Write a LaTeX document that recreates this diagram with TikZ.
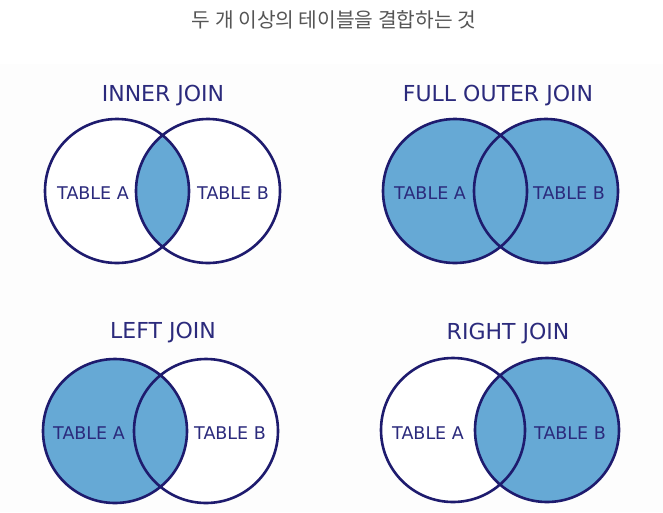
\documentclass[tikz,border=0pt]{standalone}
\usepackage{fontspec}
\setmainfont{DejaVu Sans}
\newfontfamily\krfont{Noto Sans CJK KR}
\usetikzlibrary{positioning}
\definecolor{joinline}{HTML}{1E1B6E}
\definecolor{joinfill}{HTML}{66A9D5}
\definecolor{joinlabel}{HTML}{2B2A7C}
\definecolor{headgray}{HTML}{555555}

\begin{document}
\begin{tikzpicture}[
    x=1pt, y=-1pt,
    ring/.style={
        draw=joinline,
        line width=2.6pt
    },
    shade/.style={
        fill=joinfill
    },
    heading/.style={
        text=joinlabel,
        anchor=base,
        font=\fontsize{22}{26}\selectfont
    },
    tablbl/.style={
        text=joinlabel,
        anchor=base,
        font=\fontsize{17.5}{20}\selectfont
    },
    caption/.style={
        text=headgray,
        anchor=base,
        font=\krfont\fontsize{20.3}{24}\selectfont
    }
]
\useasboundingbox (0,0) rectangle (663,512);
\fill[black!0.8] (0,64) rectangle (663,512);

\node[caption] (caption) at (334,27) {두 개 이상의 테이블을 결합하는 것};

% inner join
\coordinate (innerA) at (117,191);
\coordinate (innerB) at (208,191);
\fill[white] (innerA) circle [radius=72pt] (innerB) circle [radius=72pt];
\begin{scope}
    \clip (innerA) circle [radius=72pt];
    \fill[shade] (innerB) circle [radius=72pt];
\end{scope}
\draw[ring] (innerA) circle [radius=72pt] (innerB) circle [radius=72pt];
\node[heading] (innerT) at (163,101) {INNER JOIN};
\node[tablbl] (innerLA) at (93,199) {TABLE A};
\node[tablbl] (innerLB) at (233,199) {TABLE B};

% full outer join
\coordinate (fullA) at (455,191);
\coordinate (fullB) at (546,191);
\fill[shade] (fullA) circle [radius=72pt] (fullB) circle [radius=72pt];
\draw[ring] (fullA) circle [radius=72pt] (fullB) circle [radius=72pt];
\node[heading] (fullT) at (498,101) {FULL OUTER JOIN};
\node[tablbl] (fullLA) at (430,199) {TABLE A};
\node[tablbl] (fullLB) at (569,199) {TABLE B};

% left join
\coordinate (leftA) at (115,431);
\coordinate (leftB) at (206,431);
\fill[white] (leftB) circle [radius=72pt];
\fill[shade] (leftA) circle [radius=72pt];
\draw[ring] (leftA) circle [radius=72pt] (leftB) circle [radius=72pt];
\node[heading] (leftT) at (163,338) {LEFT JOIN};
\node[tablbl] (leftLA) at (89,439) {TABLE A};
\node[tablbl] (leftLB) at (230,439) {TABLE B};

% right join
\coordinate (rightA) at (453,430);
\coordinate (rightB) at (547,430);
\fill[white] (rightA) circle [radius=72pt];
\fill[shade] (rightB) circle [radius=72pt];
\draw[ring] (rightA) circle [radius=72pt] (rightB) circle [radius=72pt];
\node[heading] (rightT) at (508,339) {RIGHT JOIN};
\node[tablbl] (rightLA) at (428,439) {TABLE A};
\node[tablbl] (rightLB) at (570,439) {TABLE B};

\end{tikzpicture}
\end{document}
